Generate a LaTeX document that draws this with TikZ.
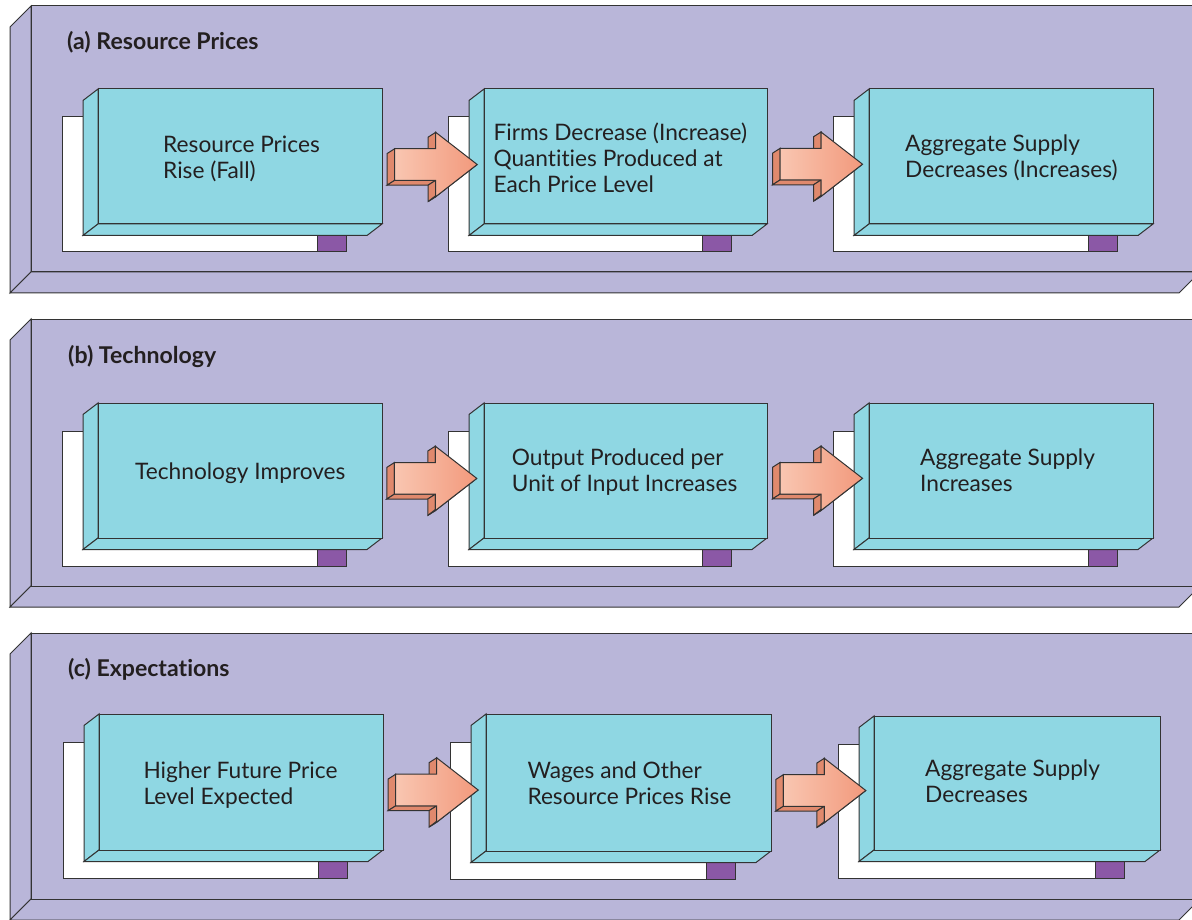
\documentclass[tikz,border=0pt]{standalone}
\usepackage{fontspec}
\setmainfont{Lato}[Ligatures={NoCommon}]
\definecolor{panelc}{HTML}{B9B6D9}
\definecolor{cyanc}{HTML}{8FD7E3}
\definecolor{purplec}{HTML}{8B58A6}
\definecolor{linec}{HTML}{333333}
\definecolor{arrlight}{HTML}{F9C6B1}
\definecolor{arrdark}{HTML}{F2997C}
\definecolor{arrside}{HTML}{E0896D}
\definecolor{txtc}{HTML}{231F20}
\tikzset{
  outl/.style={draw=linec, line width=1pt, line join=miter},
  panelface/.style={outl, fill=panelc},
  boxface/.style={outl, fill=cyanc},
  shadowbox/.style={outl, fill=white},
  tagbox/.style={outl, fill=purplec},
  arrowside/.style={outl, fill=arrside},
  arrowfront/.style={outl, left color=arrlight, right color=arrdark},
  bodytext/.style={text=txtc, inner sep=0pt, font=\fontsize{22.7}{26}\selectfont},
  titletext/.style={text=txtc, inner sep=0pt, font=\fontsize{23.1}{26}\selectfont\bfseries},
}
\newcommand{\txtlines}[1]{\begin{tabular}[t]{@{}l@{}}#1\end{tabular}}
% panel: #1 name, #2 top y, #3 front bottom y
\newcommand{\drawpanel}[3]{%
  \draw[panelface] (31,#2) -- (10,{#2+21}) -- (10,{#3+21}) -- (31,#3) -- cycle;
  \draw[panelface] (10,{#3+21}) -- (31,#3) -- (1200,#3) -- (1179,{#3+21}) -- cycle;
  \pgfmathsetmacro\pw{1200-31}\pgfmathsetmacro\ph{#3-#2}%
  \node[panelface, inner sep=0pt, outer sep=0pt, minimum width=\pw pt, minimum height=\ph pt, anchor=north west] (#1) at (31,#2) {};
}
% box: #1 name, #2 x1, #3 y1, #4 x2, #5 y2
\newcommand{\drawcbox}[5]{%
  \draw[shadowbox] ({#2-36},{#3+28}) rectangle ({#4-36},{#5+28});
  \draw[tagbox] ({#4-65},{#5+6}) rectangle ({#4-36},{#5+28});
  \draw[boxface] (#2,#3) -- ({#2-15},{#3+11.5}) -- ({#2-15},{#5+11.5}) -- (#2,#5) -- cycle;
  \draw[boxface] ({#2-15},{#5+11.5}) -- (#2,#5) -- (#4,#5) -- ({#4-15},{#5+11.5}) -- cycle;
  \pgfmathsetmacro\bw{#4-#2}\pgfmathsetmacro\bh{#5-#3}%
  \node[boxface, inner sep=0pt, outer sep=0pt, minimum width=\bw pt, minimum height=\bh pt, anchor=north west] (#1) at (#2,#3) {};
}
% arrow: #1 shaft left x, #2 centre y
\newcommand{\drawsarrow}[2]{%
  \draw[arrowside] (#1,{#2-15.8}) -- ({#1-7.5},{#2-11}) -- ({#1-7.5},{#2+20.6}) -- (#1,{#2+15.8}) -- cycle;
  \draw[arrowside] (#1,{#2+15.8}) -- ({#1-7.5},{#2+20.6}) -- ({#1+33.5},{#2+20.6}) -- ({#1+41},{#2+15.8}) -- cycle;
  \draw[arrowside] ({#1+41},{#2-32.2}) -- ({#1+33.5},{#2-27.4}) -- ({#1+33.5},{#2-11}) -- ({#1+41},{#2-15.8}) -- cycle;
  \draw[arrowside] ({#1+41},{#2+15.8}) -- ({#1+33.5},{#2+20.6}) -- ({#1+33.5},{#2+37}) -- ({#1+41},{#2+32.2}) -- cycle;
  \draw[arrowside] ({#1+41},{#2+32.2}) -- ({#1+33.5},{#2+37}) -- ({#1+75},{#2+4.8}) -- ({#1+82.5},{#2}) -- cycle;
  \draw[arrowfront] (#1,{#2-15.8}) -- ({#1+41},{#2-15.8}) -- ({#1+41},{#2-32.2}) -- ({#1+82.5},{#2}) -- ({#1+41},{#2+32.2}) -- ({#1+41},{#2+15.8}) -- (#1,{#2+15.8}) -- cycle;
}
\begin{document}
\begin{tikzpicture}[x=1pt,y=-1pt]
\useasboundingbox (0,0) rectangle (1192,920);
\fill[white] (0,0) rectangle (1192,920);
\begin{scope}
\clip (0,0) rectangle (1192,920);
% panels
\drawpanel{pa}{6}{272}
\drawpanel{pb}{319}{586}
\drawpanel{pc}{633}{899}
% panel a
\drawcbox{a1}{98}{89}{382}{224}
\drawcbox{a2}{484}{89}{767}{224}
\drawcbox{a3}{869}{89}{1153}{224}
\drawsarrow{394.7}{164.5}
\drawsarrow{780}{164.2}
% panel b
\drawcbox{b1}{98}{403}{382}{538}
\drawcbox{b2}{484}{403}{767}{538}
\drawcbox{b3}{869}{403}{1153}{538}
\drawsarrow{394.3}{478.4}
\drawsarrow{780}{478.3}
% panel c
\drawcbox{c1}{99}{714}{383}{850}
\drawcbox{c2}{486}{714}{771}{851}
\drawcbox{c3}{874}{716}{1160}{850}
\drawsarrow{395.7}{790}
\drawsarrow{783.3}{790.5}
\end{scope}
% titles
\node[titletext, anchor=base west] (ta) at (67,50) {(a) Resource Prices};
\node[titletext, anchor=base west] (tb) at (68,363.3) {(b) Technology};
\node[titletext, anchor=base west] (tc) at (68,676.7) {(c) Expectations};
% texts
\node[bodytext, anchor=base west] (a1t) at (163,153) {\txtlines{Resource Prices\\Rise (Fall)}};
\node[bodytext, anchor=base west] (a2t) at (493.3,141) {\txtlines{Firms Decrease (Increase)\\Quantities Produced at\\Each Price Level}};
\node[bodytext, anchor=base west] (a3t) at (905,151.7) {\txtlines{Aggregate Supply\\Decreases (Increases)}};
\node[bodytext, anchor=base west] (b1t) at (135,479.3) {Technology Improves};
\node[bodytext, anchor=base west] (b2t) at (511.7,465) {\txtlines{Output Produced per\\Unit of Input Increases}};
\node[bodytext, anchor=base west] (b3t) at (920,465) {\txtlines{Aggregate Supply\\Increases}};
\node[bodytext, anchor=base west] (c1t) at (143.3,778.3) {\txtlines{Higher Future Price\\Level Expected}};
\node[bodytext, anchor=base west] (c2t) at (527.3,778.3) {\txtlines{Wages and Other\\Resource Prices Rise}};
\node[bodytext, anchor=base west] (c3t) at (925,776.7) {\txtlines{Aggregate Supply\\Decreases}};
\end{tikzpicture}
\end{document}
